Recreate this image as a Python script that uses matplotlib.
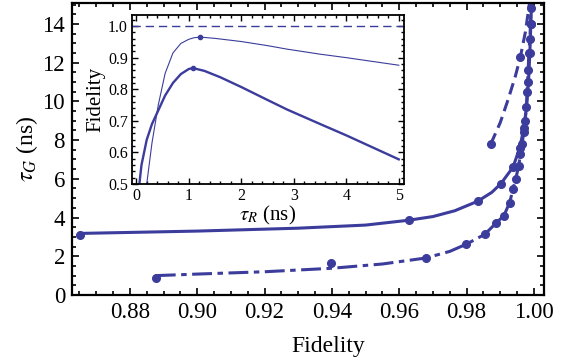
import numpy as np
import matplotlib
matplotlib.use('Agg')
from matplotlib import pyplot as plt
from matplotlib.ticker import MultipleLocator

plt.rcParams['font.family'] = ['Liberation Serif', 'DejaVu Serif']
plt.rcParams['mathtext.fontset'] = 'stix'

col = '#3c3c9c'

# main plot: tau_G (ns) vs fidelity
solid_F = [0.8652, 0.90, 0.93, 0.95, 0.9628, 0.97, 0.9765, 0.9833, 0.9875, 0.9902, 0.9938, 0.9958, 0.9970, 0.9978, 0.9984, 0.9988, 0.9991, 0.9993]
solid_t = [3.18, 3.3, 3.45, 3.61, 3.86, 4.05, 4.35, 4.84, 5.3, 5.75, 6.6, 7.6, 8.6, 9.7, 11.0, 12.5, 14.0, 15.2]
solid_mF = [0.8652, 0.9628, 0.9833, 0.9902, 0.9938, 0.9958, 0.9970, 0.9978, 0.9984, 0.9988, 0.9991]
solid_mt = [3.08, 3.86, 4.84, 5.75, 6.6, 7.6, 8.6, 9.7, 11.0, 12.5, 14.0]

dd_F = [0.8877, 0.90, 0.92, 0.94, 0.955, 0.9679, 0.975, 0.9799, 0.9854, 0.9888, 0.9911, 0.9928, 0.9938, 0.9946,
        0.9955, 0.9960, 0.9965, 0.9970, 0.9974, 0.9978, 0.9980, 0.9983, 0.9985, 0.9988, 0.9990, 0.9991, 0.9993]
dd_t = [1.0, 1.08, 1.2, 1.38, 1.6, 1.91, 2.25, 2.62, 3.13, 3.72, 4.10, 4.77, 5.46, 6.0,
        6.66, 7.3, 7.8, 8.4, 9.0, 9.7, 10.5, 11.6, 12.5, 13.2, 14.0, 14.8, 15.2]
dd_mF = [0.8877, 0.9398, 0.9679, 0.9799, 0.9854, 0.9888, 0.9911, 0.9928, 0.9938, 0.9946, 0.9955, 0.9960,
         0.9965, 0.9970, 0.9974, 0.9980, 0.9983, 0.9985, 0.9988, 0.9990, 0.9991]
dd_mt = [0.89, 1.65, 1.91, 2.62, 3.13, 3.72, 4.10, 4.77, 5.46, 6.0, 6.66, 7.3,
         7.8, 8.4, 9.0, 10.5, 11.6, 12.5, 13.2, 14.0, 14.8]

dash_F = [0.9872, 0.9900, 0.9923, 0.9945, 0.9960, 0.9975, 0.9988]
dash_t = [7.8, 8.9, 10.07, 11.3, 12.3, 13.6, 15.2]
dash_mF = [0.9872, 0.9960]
dash_mt = [7.8, 12.3]

# inset: fidelity vs tau_R (ns)
thick_x = [0.0, 0.06, 0.1, 0.2, 0.3, 0.42, 0.55, 0.7, 0.85, 1.0, 1.08, 1.3, 1.6, 2.0, 2.5, 2.87, 3.5, 4.0, 4.5, 5.0]
thick_y = [0.38, 0.5, 0.56, 0.64, 0.69, 0.733, 0.78, 0.82, 0.848, 0.864, 0.867, 0.858, 0.838, 0.807, 0.766, 0.736, 0.69, 0.654, 0.616, 0.578]
thin_x = [0.12, 0.2, 0.3, 0.42, 0.55, 0.7, 0.85, 1.0, 1.1, 1.22, 1.5, 2.0, 2.5, 2.87, 3.5, 4.0, 4.5, 5.0]
thin_y = [0.38, 0.5, 0.63, 0.75, 0.85, 0.915, 0.945, 0.958, 0.963, 0.965, 0.961, 0.951, 0.938, 0.927, 0.911, 0.9, 0.888, 0.876]
peak_x = [1.08, 1.22]
peak_y = [0.867, 0.965]
ideal = 1.0

fig = plt.figure(figsize=(5.74, 3.64), dpi=100)
ax = fig.add_axes([0.1254, 0.1896, 0.8223, 0.8022])

ax.plot(solid_F, solid_t, '-', color=col, lw=2.2)
ax.plot(solid_mF, solid_mt, 'o', color=col, ms=5.5)
ax.plot(dd_F, dd_t, color=col, lw=2.2, dashes=[6.5, 1.8, 1.8, 1.8])
ax.plot(dd_mF, dd_mt, 'o', color=col, ms=5.5)
ax.plot(dash_F, dash_t, color=col, lw=2.2, dashes=[3.8, 2])
ax.plot(dash_mF, dash_mt, 'o', color=col, ms=5.5)

ax.set_xlim(0.8628, 1.003)
ax.set_ylim(0, 15.08)
ax.xaxis.set_minor_locator(MultipleLocator(0.005))
ax.yaxis.set_major_locator(MultipleLocator(2))
ax.yaxis.set_minor_locator(MultipleLocator(0.5))
ax.set_xticks(np.arange(0.88, 1.001, 0.02))
ax.set_xticklabels(['%.2f' % v for v in np.arange(0.88, 1.001, 0.02)])
ax.tick_params(which='both', direction='in', top=True, right=True, labelsize=16.5, width=1.2, pad=5)
ax.tick_params(which='major', length=5)
ax.tick_params(which='minor', length=3)
for s in ax.spines.values():
    s.set_linewidth(1.6)
ax.set_xlabel('Fidelity', fontsize=17, labelpad=1)
ax.xaxis.set_label_coords(0.542, -0.14)
ax.set_ylabel(r'$\tau_G$ (ns)', fontsize=17, labelpad=2)

ins = fig.add_axes([0.2300, 0.4945, 0.4739, 0.4643])
ins.axhline(ideal, color=col, lw=1.0, dashes=[6, 3.5])
ins.plot(thin_x, thin_y, '-', color=col, lw=0.8)
ins.plot(thick_x, thick_y, '-', color=col, lw=1.7)
ins.plot(peak_x, peak_y, 'o', color=col, ms=3)
ins.set_xlim(-0.08, 5.1)
ins.set_ylim(0.5, 1.035)
ins.xaxis.set_major_locator(MultipleLocator(1))
ins.xaxis.set_minor_locator(MultipleLocator(0.2))
ins.yaxis.set_minor_locator(MultipleLocator(0.02))
ins.set_yticks([0.5, 0.6, 0.7, 0.8, 0.9, 1.0])
ins.set_yticklabels(['0.5', '0.6', '0.7', '0.8', '0.9', '1.0'])
ins.tick_params(which='both', direction='in', top=True, right=True, labelsize=11.5, width=1.0, pad=3)
ins.tick_params(which='major', length=4)
ins.tick_params(which='minor', length=2)
for s in ins.spines.values():
    s.set_linewidth(1.3)
ins.set_xlabel(r'$\tau_R$ (ns)', fontsize=15, labelpad=0)
ins.set_ylabel('Fidelity', fontsize=15, labelpad=2)

fig.savefig('out.png', dpi=100)
